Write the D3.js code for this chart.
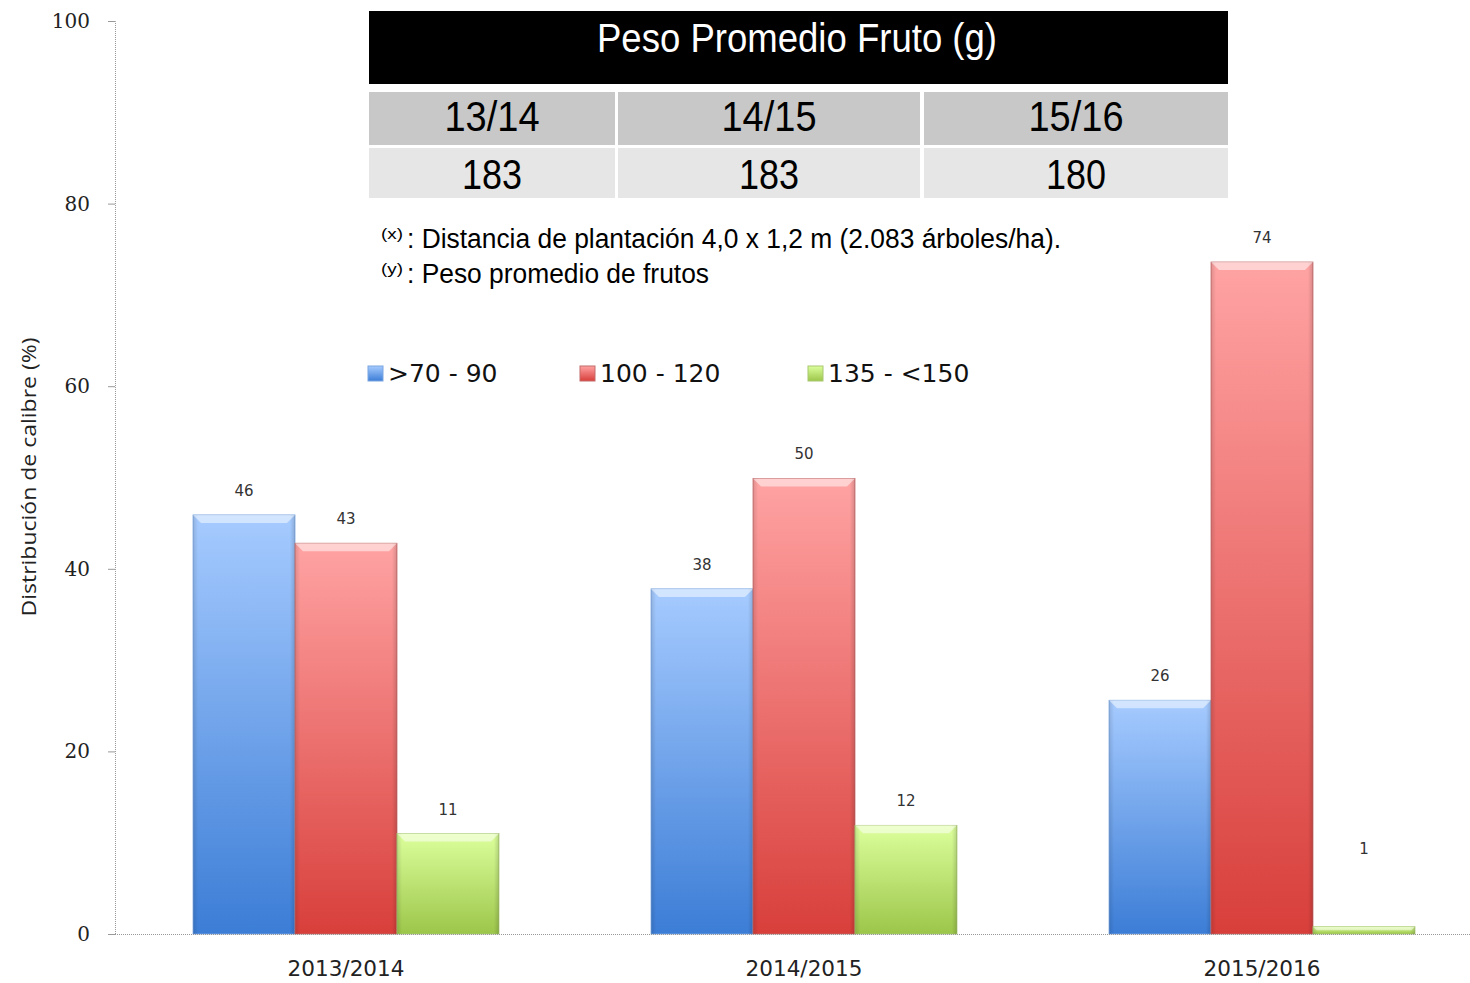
<!DOCTYPE html>
<html>
<head>
<meta charset="utf-8">
<script src="https://cdn.jsdelivr.net/npm/d3@7"></script>
<style>
  body { margin: 0; background: #fff; }
  .narrow { font-family: "Liberation Sans Narrow", "Arial Narrow", "Liberation Sans", sans-serif; }
</style>
</head>
<body>
<svg width="1470" height="983"></svg>
<script>
(function (d3) {
  'use strict';

  var svg = d3.select('svg');

  // data
  var seasons = ['2013/2014', '2014/2015', '2015/2016'];
  var seriesNames = ['>70 - 90', '100 - 120', '135 - <150'];
  var small = [45.9, 37.8, 25.6];
  var medium = [42.8, 49.9, 73.6];
  var large = [11, 11.9, 0.8];
  var yTicks = [0, 20, 40, 60, 80, 100];

  // table
  var tableTitle = 'Peso Promedio Fruto (g)';
  var tableSeasons = ['13/14', '14/15', '15/16'];
  var tableWeights = ['183', '183', '180'];

  var colors = [
    { top: '#a6cbff', bottom: '#3c7dd6', edge: '#7aa6e0' },
    { top: '#ffa3a3', bottom: '#d83f3b', edge: '#c46a6a' },
    { top: '#dcff9c', bottom: '#9cc64a', edge: '#a8c870' }
  ];

  var yScale = d3.scaleLinear().domain([0, 100]).range([934, 21]);
  var x0 = d3.scaleBand().domain(seasons).range([117, 1491])
      .paddingInner(0.332).paddingOuter(0.166);
  var x1 = d3.scaleBand().domain([0, 1, 2]).range([0, x0.bandwidth()]);
  var fmt = d3.format('.0f');

  var rows = seasons.map(function (s, i) {
    return { season: s, values: [small[i], medium[i], large[i]] };
  });

  // gradients
  var defs = svg.append('defs');
  colors.forEach(function (c, i) {
    var g = defs.append('linearGradient').attr('id', 'grad' + i)
        .attr('x1', 0).attr('y1', 0).attr('x2', 0).attr('y2', 1);
    g.append('stop').attr('offset', '0%').attr('stop-color', c.top);
    g.append('stop').attr('offset', '100%').attr('stop-color', c.bottom);
  });
  var side = defs.append('linearGradient').attr('id', 'side')
      .attr('x1', 0).attr('y1', 0).attr('x2', 1).attr('y2', 0);
  side.append('stop').attr('offset', '0%').attr('stop-color', '#000').attr('stop-opacity', 0.12);
  side.append('stop').attr('offset', '5%').attr('stop-color', '#000').attr('stop-opacity', 0);
  side.append('stop').attr('offset', '95%').attr('stop-color', '#000').attr('stop-opacity', 0);
  side.append('stop').attr('offset', '100%').attr('stop-color', '#000').attr('stop-opacity', 0.15);

  // y axis
  var yAxis = svg.append('g')
      .attr('transform', 'translate(115,0)')
      .call(d3.axisLeft(yScale).tickValues(yTicks).tickSize(7).tickPadding(18));
  yAxis.select('.domain').attr('stroke', '#999').attr('stroke-dasharray', '1,1');
  yAxis.selectAll('.tick line').attr('stroke', '#999');
  yAxis.selectAll('.tick text')
      .attr('font-family', '"DejaVu Serif", serif')
      .attr('font-size', 20).attr('fill', '#222');

  svg.append('text')
      .attr('transform', 'translate(36,477) rotate(-90)')
      .attr('text-anchor', 'middle')
      .attr('font-family', '"Open Sans", sans-serif')
      .attr('font-size', 20).attr('fill', '#222')
      .attr('textLength', 279).attr('lengthAdjust', 'spacingAndGlyphs')
      .text('Distribución de calibre (%)');

  // bars
  var groups = svg.append('g').selectAll('g')
      .data(rows).enter().append('g')
      .attr('transform', function (d) { return 'translate(' + x0(d.season) + ',0)'; });

  var bar = groups.selectAll('g')
      .data(function (d) { return d.values.map(function (v, k) { return { v: v, k: k }; }); })
      .enter().append('g');

  bar.append('rect')
      .attr('x', function (d) { return x1(d.k); })
      .attr('y', function (d) { return yScale(d.v); })
      .attr('width', x1.bandwidth())
      .attr('height', function (d) { return yScale(0) - yScale(d.v); })
      .attr('fill', function (d) { return 'url(#grad' + d.k + ')'; })
      .attr('stroke', function (d) { return colors[d.k].edge; })
      .attr('stroke-width', 0.8);

  bar.append('rect')
      .attr('x', function (d) { return x1(d.k); })
      .attr('y', function (d) { return yScale(d.v); })
      .attr('width', x1.bandwidth())
      .attr('height', function (d) { return yScale(0) - yScale(d.v); })
      .attr('fill', 'url(#side)');

  // bevel highlight on top
  bar.append('path')
      .attr('d', function (d) {
        var xl = x1(d.k), xr = xl + x1.bandwidth(), yt = yScale(d.v);
        var h = Math.min(8, (yScale(0) - yt) / 2);
        return 'M' + xl + ',' + yt + 'L' + xr + ',' + yt +
               'L' + (xr - h) + ',' + (yt + h) + 'L' + (xl + h) + ',' + (yt + h) + 'Z';
      })
      .attr('fill', '#fff').attr('fill-opacity', 0.5);

  bar.append('text')
      .attr('x', function (d) { return x1(d.k) + x1.bandwidth() / 2; })
      .attr('y', function (d) { return Math.min(yScale(d.v), yScale(6.7)) - 19; })
      .attr('text-anchor', 'middle')
      .attr('font-family', '"DejaVu Sans", sans-serif')
      .attr('font-size', 15).attr('fill', '#333')
      .text(function (d) { return fmt(d.v); });

  // x axis
  svg.append('line')
      .attr('x1', 115).attr('x2', 1470)
      .attr('y1', 934.5).attr('y2', 934.5)
      .attr('stroke', '#999').attr('stroke-dasharray', '1,1');

  svg.append('g').selectAll('text')
      .data(seasons).enter().append('text')
      .attr('x', function (d) { return x0(d) + x0.bandwidth() / 2; })
      .attr('y', 976)
      .attr('text-anchor', 'middle')
      .attr('font-family', '"DejaVu Sans", sans-serif')
      .attr('font-size', 21).attr('fill', '#222')
      .attr('textLength', 117).attr('lengthAdjust', 'spacingAndGlyphs')
      .text(function (d) { return d; });

  // legend
  var legX = [368, 580, 808];
  var leg = svg.append('g').selectAll('g')
      .data(seriesNames).enter().append('g')
      .attr('transform', function (d, i) { return 'translate(' + legX[i] + ',366)'; });
  leg.append('rect')
      .attr('width', 15).attr('height', 15)
      .attr('fill', function (d, i) { return 'url(#grad' + i + ')'; })
      .attr('stroke', function (d, i) { return colors[i].edge; });
  leg.append('text')
      .attr('x', 20).attr('y', 16)
      .attr('font-family', '"DejaVu Sans", sans-serif')
      .attr('font-size', 25).attr('fill', '#111')
      .text(function (d) { return d; });

  // table
  var table = svg.append('g').attr('class', 'narrow');
  table.append('rect')
      .attr('x', 369).attr('y', 11).attr('width', 859).attr('height', 73)
      .attr('fill', '#000');
  table.append('text')
      .attr('x', 797).attr('y', 52)
      .attr('text-anchor', 'middle')
      .attr('font-size', 40).attr('fill', '#fff')
      .attr('textLength', 400).attr('lengthAdjust', 'spacingAndGlyphs')
      .text(tableTitle);

  var colX = [369, 618, 924];
  var colW = [246, 302, 304];
  var tableRows = [
    { y: 92, h: 53, fill: '#c8c8c8', vals: tableSeasons, base: 131, len: 95 },
    { y: 148, h: 50, fill: '#e6e6e6', vals: tableWeights, base: 189, len: 60 }
  ];
  tableRows.forEach(function (r) {
    var cell = table.append('g').selectAll('g')
        .data(r.vals).enter().append('g');
    cell.append('rect')
        .attr('x', function (d, i) { return colX[i]; })
        .attr('y', r.y)
        .attr('width', function (d, i) { return colW[i]; })
        .attr('height', r.h)
        .attr('fill', r.fill);
    cell.append('text')
        .attr('x', function (d, i) { return colX[i] + colW[i] / 2; })
        .attr('y', r.base)
        .attr('text-anchor', 'middle')
        .attr('font-size', 42).attr('fill', '#000')
        .attr('textLength', r.len).attr('lengthAdjust', 'spacingAndGlyphs')
        .text(function (d) { return d; });
  });

  // notes
  var notes = [
    { sup: '(x)', text: ': Distancia de plantación 4,0 x 1,2 m (2.083 árboles/ha).', y: 248, len: 654 },
    { sup: '(y)', text: ': Peso promedio de frutos', y: 283, len: 302 }
  ];
  notes.forEach(function (n) {
    table.append('text')
        .attr('x', 381).attr('y', n.y - 9)
        .attr('font-size', 14).attr('fill', '#000')
        .attr('textLength', 22).attr('lengthAdjust', 'spacingAndGlyphs')
        .text(n.sup);
    table.append('text')
        .attr('x', 407).attr('y', n.y)
        .attr('font-size', 27).attr('fill', '#000')
        .attr('textLength', n.len).attr('lengthAdjust', 'spacingAndGlyphs')
        .text(n.text);
  });

}(d3));
</script>
</body>
</html>
